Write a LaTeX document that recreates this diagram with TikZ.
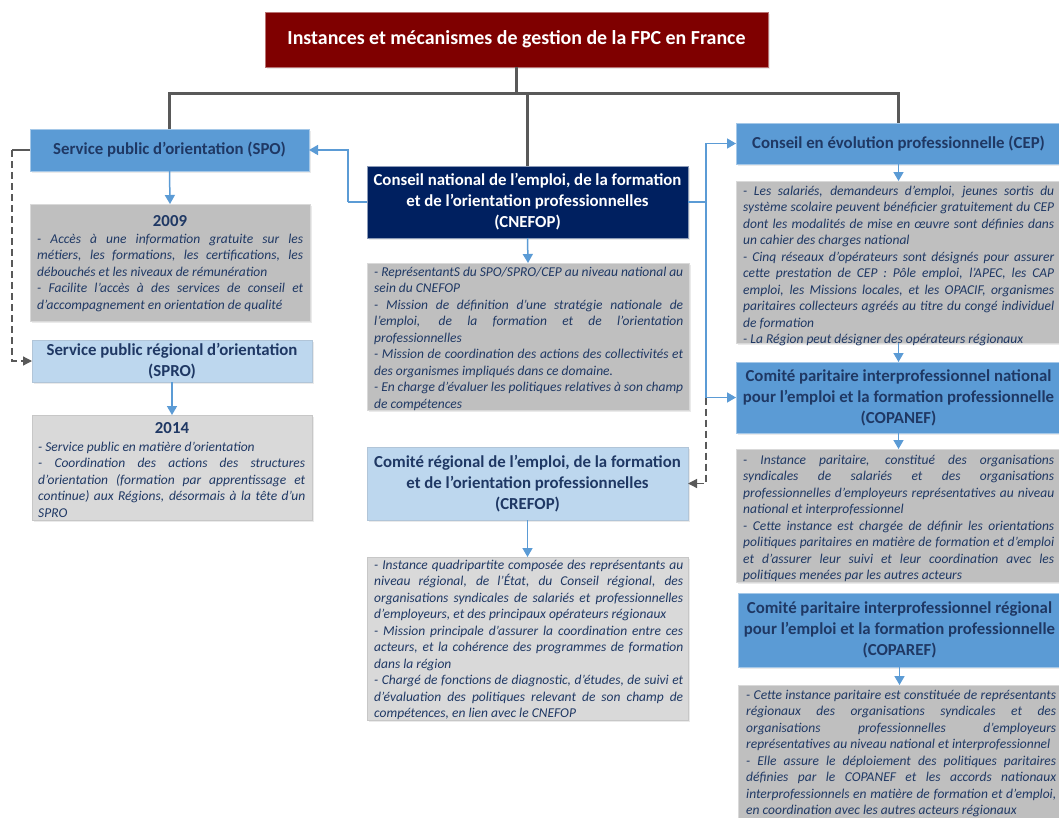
\documentclass[tikz,border=0pt]{standalone}
\usepackage{fontspec}
\setmainfont{Carlito}
\usetikzlibrary{arrows.meta,shadows}

\definecolor{titlered}{HTML}{7F0000}
\definecolor{midblue}{HTML}{5B9BD5}
\definecolor{navy}{HTML}{002060}
\definecolor{paleblue}{HTML}{BDD7EE}
\definecolor{greyA}{HTML}{BFBFBF}
\definecolor{greyB}{HTML}{D9D9D9}
\definecolor{inktext}{HTML}{1F3864}
\definecolor{treegrey}{HTML}{595959}

% one justified line, one ragged (last) line
\newcommand\jl[1]{\hbox to\hsize{#1}}
\newcommand\rl[1]{\hbox to\hsize{#1\hfil}}
% a block of body lines whose baseline is the first line's baseline
\newcommand\bodyblock[2]{\vtop{\hsize=#1pt\relax\fontsize{13.5}{16.5}\selectfont\itshape #2}}

\tikzset{
  x=1pt, y=-1pt,
  box/.style={draw, line width=0.9pt, anchor=north west, inner sep=2pt, outer sep=0pt,
    align=center, drop shadow={opacity=0.16, shadow xshift=1.5pt, shadow yshift=-2pt}},
  headfont/.style={font=\fontsize{16.8}{21}\selectfont\bfseries},
  titlebox/.style={box, fill=titlered, draw=titlered!55!white, text=white,
    font=\fontsize{19.9}{23}\selectfont\bfseries},
  bluebox/.style={box, headfont, fill=midblue, draw=midblue!55!white, text=inktext},
  navybox/.style={box, headfont, fill=navy, draw=navy!45!white, text=white},
  palebox/.style={box, headfont, fill=paleblue, draw=paleblue!80!gray, text=inktext},
  greybox/.style={box, fill=greyA, draw=greyA!60!white},
  lightgreybox/.style={box, fill=greyB, draw=greyB!80!gray},
  bodytext/.style={anchor=base west, inner sep=0pt, text=inktext},
  yeartext/.style={anchor=base, inner sep=0pt, text=inktext, headfont},
  tree/.style={draw=treegrey, line width=3pt, line join=miter},
  blueline/.style={draw=midblue, line width=1.5pt},
  bluearrow/.style={blueline, -{Triangle[length=9pt, width=10pt]}},
  dasharrow/.style={draw=treegrey, line width=1.3pt, dash pattern=on 7pt off 4pt,
    -{Triangle[length=9pt, width=9pt]}},
}

\begin{document}
\begin{tikzpicture}
\fill[white] (0,0) rectangle (1059,817);
\useasboundingbox (0,0) rectangle (1059,817);

% ---------- headings ----------
\node[titlebox, minimum width=503, minimum height=55] (title) at (265,12)
  {Instances et mécanismes de gestion de la FPC en France};

\node[bluebox, minimum width=279, minimum height=42] (spo) at (30,129)
  {Service public d’orientation (SPO)};
\node[palebox, minimum width=280, minimum height=42] (spro) at (32,340)
  {Service public régional d’orientation\\(SPRO)};

\node[navybox, minimum width=321, minimum height=72] (cnefop) at (367,166)
  {Conseil national de l’emploi, de la formation\\et de l’orientation professionnelles\\(CNEFOP)};
\node[palebox, minimum width=321, minimum height=73] (crefop) at (367,447)
  {Comité régional de l’emploi, de la formation\\et de l’orientation professionnelles\\(CREFOP)};

\node[bluebox, minimum width=325, minimum height=41] (cep) at (736,123)
  {Conseil en évolution professionnelle (CEP)};
\node[bluebox, minimum width=325, minimum height=71] (copanef) at (736,362)
  {Comité paritaire interprofessionnel national\\pour l’emploi et la formation professionnelle\\(COPANEF)};
\node[bluebox, minimum width=323, minimum height=74] (coparef) at (738,593)
  {Comité paritaire interprofessionnel régional\\pour l’emploi et la formation professionnelle\\(COPAREF)};

% ---------- description panels ----------
\node[greybox, minimum width=280, minimum height=117] (d2009) at (30,204) {};
\node[yeartext] (d2009-year) at (170,226) {2009};
\node[bodytext] (d2009-txt) at (37,243) {\bodyblock{266}{%
  \jl{- Accès à une information gratuite sur les}
  \jl{métiers, les formations, les certifications, les}
  \rl{débouchés et les niveaux de rémunération}
  \jl{- Facilite l’accès à des services de conseil et}
  \rl{d’accompagnement en orientation de qualité}}};

\node[lightgreybox, minimum width=280, minimum height=105] (d2014) at (32,415) {};
\node[yeartext] (d2014-year) at (172,433) {2014};
\node[bodytext] (d2014-txt) at (38,451) {\bodyblock{267}{%
  \rl{- Service public en matière d’orientation}
  \jl{- Coordination des actions des structures}
  \jl{d’orientation (formation par apprentissage et}
  \jl{continue) aux Régions, désormais à la tête d’un}
  \rl{SPRO}}};

\node[greybox, minimum width=322, minimum height=147] (dcnefop) at (367,263) {};
\node[bodytext] (dcnefop-txt) at (374,276) {\bodyblock{309}{%
  \jl{- ReprésentantS du SPO/SPRO/CEP au niveau national au}
  \rl{sein du CNEFOP}
  \jl{- Mission de définition d’une stratégie nationale de}
  \jl{l’emploi, de la formation et de l’orientation}
  \rl{professionnelles}
  \jl{- Mission de coordination des actions des collectivités et}
  \rl{des organismes impliqués dans ce domaine.}
  \jl{- En charge d’évaluer les politiques relatives à son champ}
  \rl{de compétences}}};

\node[lightgreybox, minimum width=321, minimum height=163] (dcrefop) at (367,557) {};
\node[bodytext] (dcrefop-txt) at (374,569) {\bodyblock{309}{%
  \jl{- Instance quadripartite composée des représentants au}
  \jl{niveau régional, de l’État, du Conseil régional, des}
  \jl{organisations syndicales de salariés et professionnelles}
  \rl{d’employeurs, et des principaux opérateurs régionaux}
  \jl{- Mission principale d’assurer la coordination entre ces}
  \jl{acteurs, et la cohérence des programmes de formation}
  \rl{dans la région}
  \jl{- Chargé de fonctions de diagnostic, d’études, de suivi et}
  \jl{d’évaluation des politiques relevant de son champ de}
  \rl{compétences, en lien avec le CNEFOP}}};

\node[greybox, minimum width=325, minimum height=162] (dcep) at (736,181) {};
\node[bodytext] (dcep-txt) at (743,195) {\bodyblock{311}{%
  \jl{- Les salariés, demandeurs d’emploi, jeunes sortis du}
  \jl{système scolaire peuvent bénéficier gratuitement du CEP}
  \jl{dont les modalités de mise en œuvre sont définies dans}
  \rl{un cahier des charges national}
  \jl{- Cinq réseaux d’opérateurs sont désignés pour assurer}
  \jl{cette prestation de CEP : Pôle emploi, l’APEC, les CAP}
  \jl{emploi, les Missions locales, et les OPACIF, organismes}
  \jl{paritaires collecteurs agréés au titre du congé individuel}
  \rl{de formation}
  \rl{- La Région peut désigner des opérateurs régionaux}}};

\node[greybox, minimum width=325, minimum height=133] (dcopanef) at (736,449) {};
\node[bodytext] (dcopanef-txt) at (743,464) {\bodyblock{311}{%
  \jl{- Instance paritaire, constitué des organisations}
  \jl{syndicales de salariés et des organisations}
  \jl{professionnelles d’employeurs représentatives au niveau}
  \rl{national et interprofessionnel}
  \jl{- Cette instance est chargée de définir les orientations}
  \jl{politiques paritaires en matière de formation et d’emploi}
  \jl{et d’assurer leur suivi et leur coordination avec les}
  \rl{politiques menées par les autres acteurs}}};

\node[greybox, minimum width=323, minimum height=135] (dcoparef) at (738,685) {};
\node[bodytext] (dcoparef-txt) at (746,699) {\bodyblock{310}{%
  \jl{- Cette instance paritaire est constituée de représentants}
  \jl{régionaux des organisations syndicales et des}
  \jl{organisations professionnelles d’employeurs}
  \rl{représentatives au niveau national et interprofessionnel}
  \jl{- Elle assure le déploiement des politiques paritaires}
  \jl{définies par le COPANEF et les accords nationaux}
  \jl{interprofessionnels en matière de formation et d’emploi,}
  \rl{en coordination avec les autres acteurs régionaux}}};

% ---------- hierarchy from the title ----------
\coordinate (hub) at (516.5,93);
\draw[tree] (title.south) -- (hub);
\draw[tree] (spo.north) -- (spo.north |- hub) -- (cep.north |- hub) -- (cep.north);
\draw[tree] (cnefop.north |- hub) -- (cnefop.north);

% ---------- vertical links to the panels ----------
\draw[bluearrow] (spo.south) -- (d2009.north);
\draw[bluearrow] (spro.south) -- (d2014.north);
\draw[bluearrow] (cnefop.south) -- (dcnefop.north);
\draw[bluearrow] (crefop.south) -- (dcrefop.north);
\draw[bluearrow] (cep.south) -- (dcep.north);
\draw[bluearrow] (dcep.south) -- (copanef.north);
\draw[bluearrow] (copanef.south) -- (dcopanef.north);
\draw[bluearrow] (coparef.south) -- (dcoparef.north);

% ---------- CNEFOP links ----------
\coordinate (lknee) at (348,202);
\coordinate (rknee) at (706,202);
\draw[blueline] (cnefop.west) -- (lknee);
\draw[bluearrow] (lknee) |- (spo.east);
\draw[blueline] (cnefop.east) -- (rknee);
\draw[bluearrow] (rknee) |- (cep.west);
\draw[bluearrow] (rknee) |- (copanef.west);
\draw[dasharrow] (rknee |- copanef.west) |- (crefop.east);

% ---------- SPO to SPRO ----------
\coordinate (spoknee) at (12,150);
\draw[draw=treegrey, line width=1.3pt] (spo.west) -- (spoknee);
\draw[dasharrow] (spoknee) |- (spro.west);
\end{tikzpicture}
\end{document}
